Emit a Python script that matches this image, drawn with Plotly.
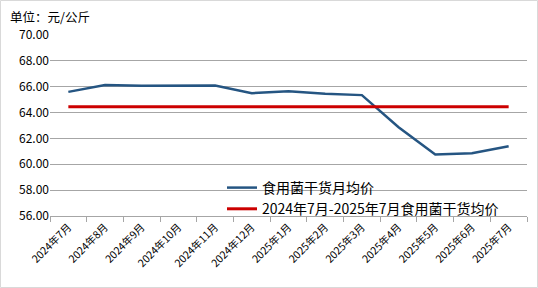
import plotly.graph_objects as go

months = ["2024年7月", "2024年8月", "2024年9月", "2024年10月", "2024年11月", "2024年12月",
          "2025年1月", "2025年2月", "2025年3月", "2025年4月", "2025年5月", "2025年6月", "2025年7月"]
monthly_avg = [65.60, 66.13, 66.07, 66.10, 66.10, 65.50, 65.65, 65.45, 65.35, 62.86, 60.75, 60.85, 61.40]
period_avg = [64.45] * len(months)

W, H = 538, 288
ml, mr, mt, mb = 50, 11, 35, 72
pw, ph = W - ml - mr, H - mt - mb

fig = go.Figure()
fig.add_trace(go.Scatter(x=months, y=monthly_avg, mode="lines", name="食用菌干货月均价",
                         line=dict(color="#255582", width=2.5)))
fig.add_trace(go.Scatter(x=months, y=period_avg, mode="lines", name="2024年7月-2025年7月食用菌干货均价",
                         line=dict(color="#cc0000", width=3)))

fig.update_layout(
    width=W, height=H,
    margin=dict(l=ml, r=mr, t=mt, b=mb),
    paper_bgcolor="white", plot_bgcolor="white",
    font=dict(family="Noto Sans CJK SC", color="#000000"),
    showlegend=True,
    legend=dict(x=(222 - ml) / pw, y=(216 - 172) / ph, xanchor="left", yanchor="top",
                bgcolor="rgba(0,0,0,0)", font=dict(size=14), tracegroupgap=0,
                itemwidth=30),
    xaxis=dict(type="category", range=[-0.5, len(months) - 0.5], tickangle=-45,
               tickfont=dict(size=10.5),
               showgrid=False, showline=True, linecolor="#a6a6a6", linewidth=1,
               ticks="outside", tickson="boundaries", ticklen=5, tickcolor="#a6a6a6"),
    yaxis=dict(range=[56, 70], dtick=2, tickformat=".2f", tickfont=dict(size=12),
               showgrid=True, gridcolor="#a6a6a6", gridwidth=1, zeroline=False,
               showline=False, ticks="", ticklen=4),
    annotations=[dict(text="单位：元/公斤", xref="paper", yref="paper",
                      x=-(ml - 8) / pw, y=1 + (mt - 5) / ph, xanchor="left", yanchor="top",
                      showarrow=False, font=dict(size=12.5))],
    shapes=[dict(type="rect", xref="paper", yref="paper",
                 x0=-(ml - 0.5) / pw, x1=1 + (mr - 0.5) / pw,
                 y0=-(mb - 0.5) / ph, y1=1 + (mt - 0.5) / ph,
                 line=dict(color="#d9d9d9", width=1))],
)

fig.write_html("out.html")
